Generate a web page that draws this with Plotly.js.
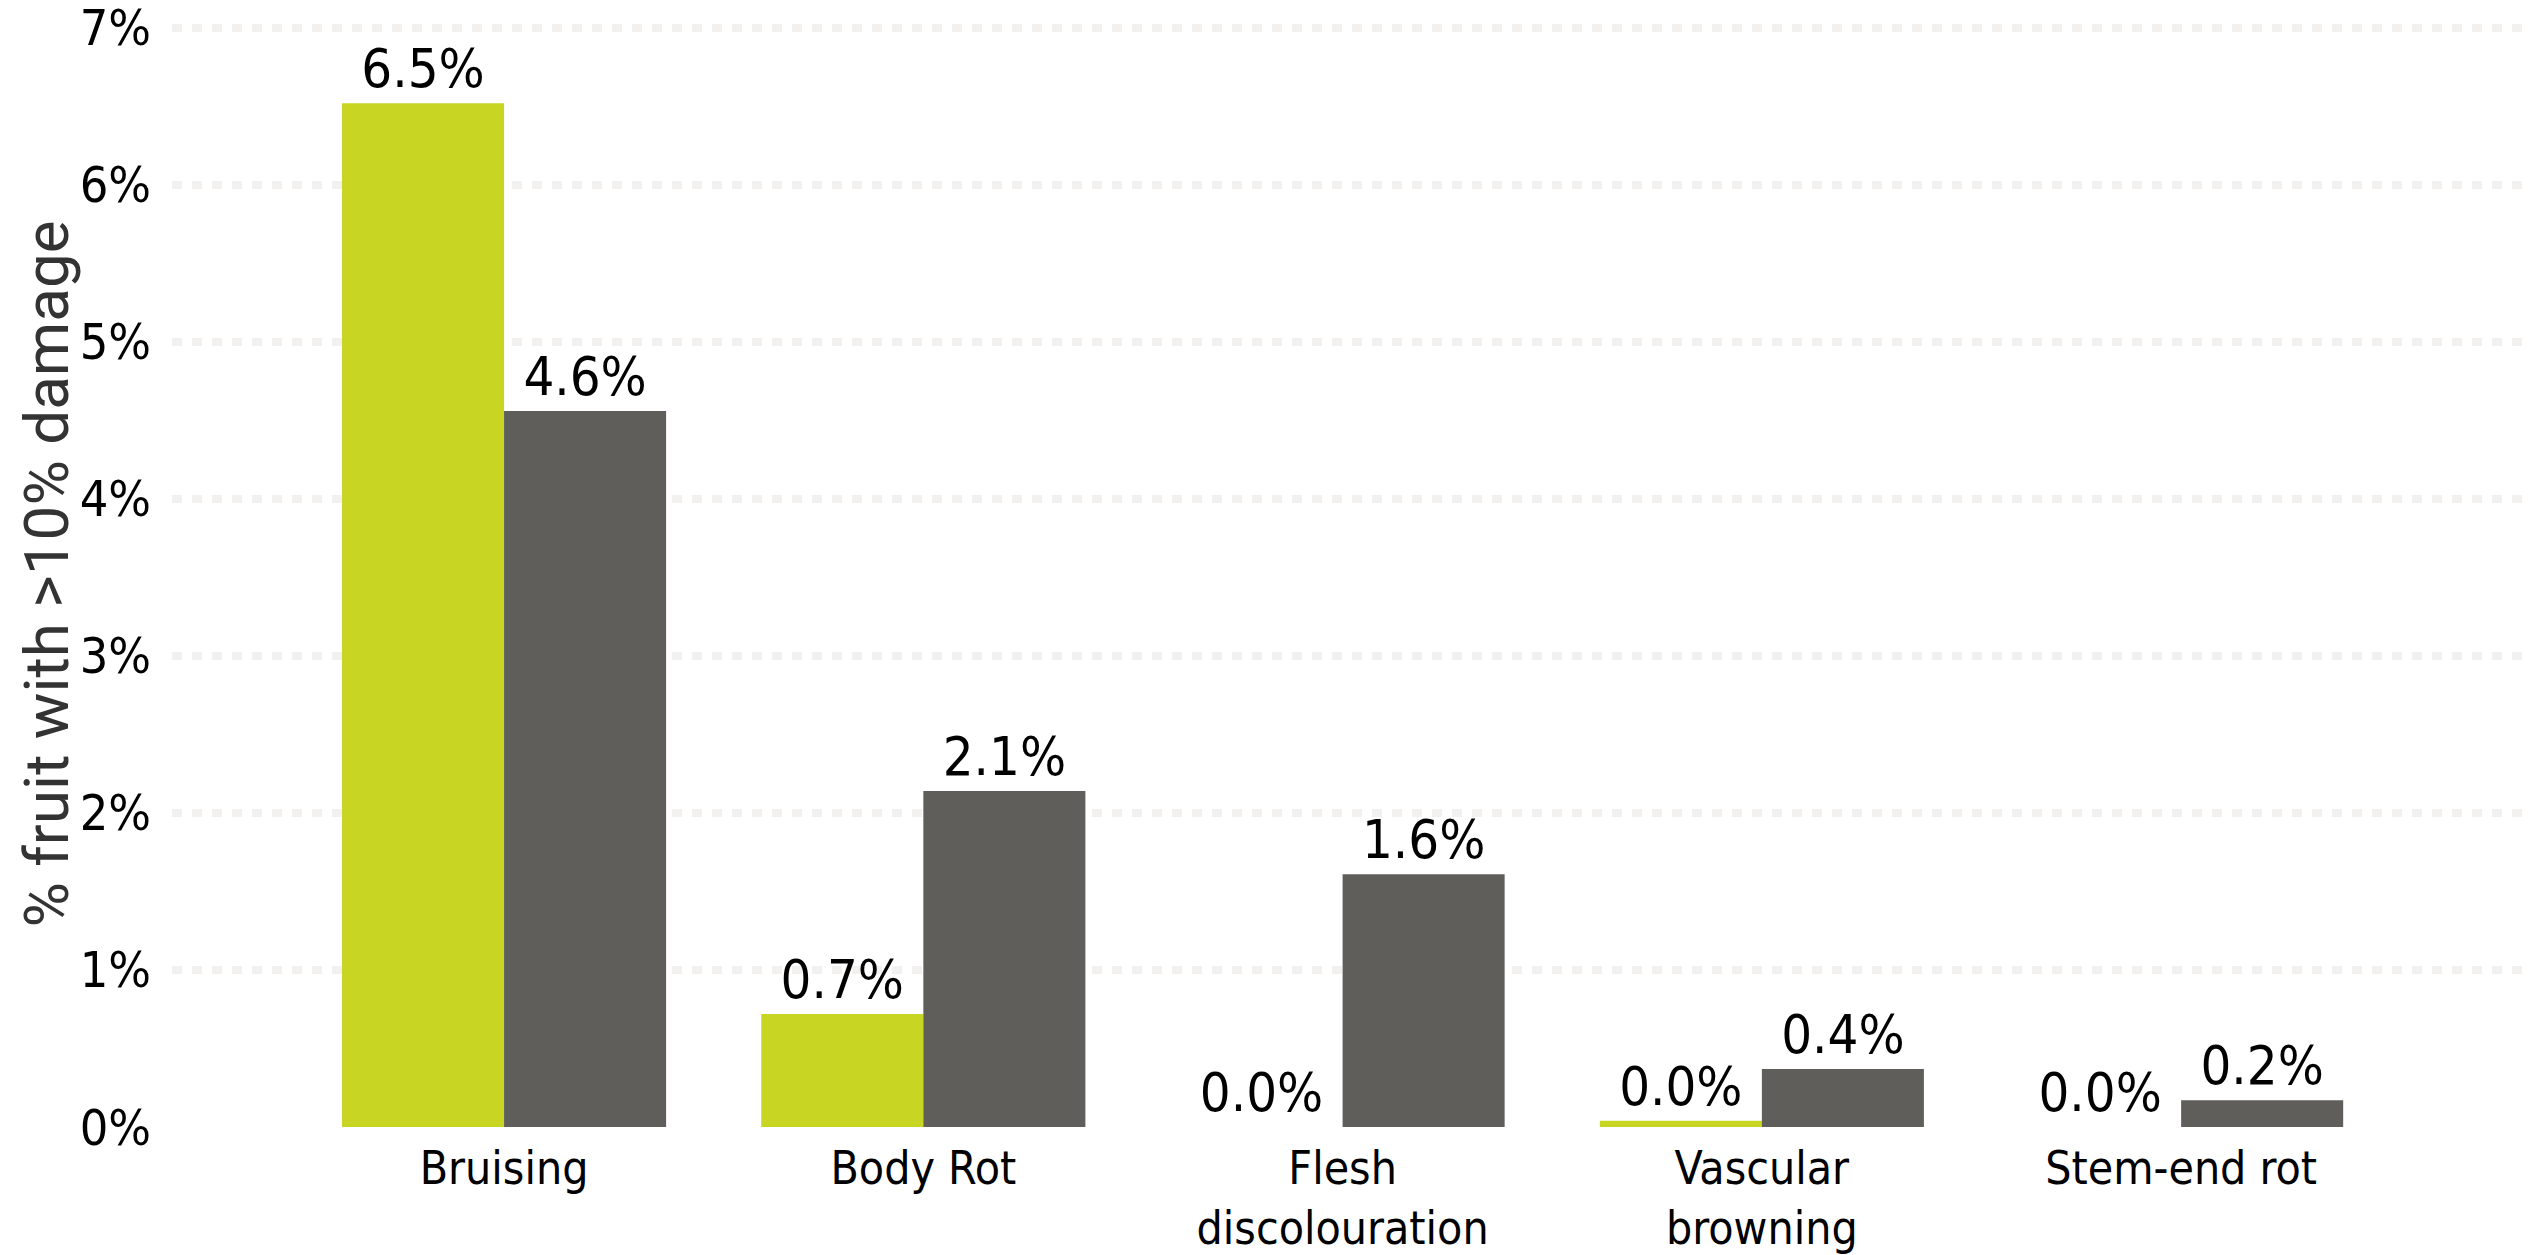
<!DOCTYPE html>
<html>
<head>
<meta charset="utf-8">
<script src="https://cdn.plot.ly/plotly-3.0.1.min.js"></script>
<style>
html,body{margin:0;padding:0;background:#fff;}
#chart{width:2533px;height:1255px;}
</style>
</head>
<body>
<div id="chart"></div>
<script>
var categories = ["Bruising", "Body Rot", "Flesh<br>discolouration", "Vascular<br>browning", "Stem-end rot"];
var seriesGreen = [6.52, 0.72, 0.0, 0.04, 0.0];
var seriesGray = [4.56, 2.14, 1.61, 0.37, 0.17];
var yTickVals = [0, 1, 2, 3, 4, 5, 6, 7];
var yTickText = ["0%", "1%", "2%", "3%", "4%", "5%", "6%", "7%"];
var yTitle = "% fruit with >10% damage";

var numFont = "DejaVu Sans Condensed, Liberation Sans, Arial, sans-serif";
var txtFont = "DejaVu Sans Condensed, Liberation Sans, Arial, sans-serif";

var common = {
  type: "bar",
  x: categories,
  texttemplate: "%{y:.1f}%",
  textposition: "outside",
  constraintext: "none",
  cliponaxis: false,
  textfont: {family: numFont, size: 54, color: "#000"},
  hoverinfo: "skip"
};

var traceGreen = Object.assign({}, common, {y: seriesGreen, marker: {color: "#c8d523"}, name: "A"});
var traceGray = Object.assign({}, common, {y: seriesGray, marker: {color: "#5f5e5b"}, name: "B"});

var layout = {
  width: 2533,
  height: 1255,
  margin: {l: 172, r: 11, t: 20, b: 128},
  paper_bgcolor: "#fff",
  plot_bgcolor: "#fff",
  showlegend: false,
  barmode: "group",
  bargap: 0.227,
  bargroupgap: 0,
  xaxis: {
    type: "category",
    range: [-0.792, 4.813],
    showgrid: false,
    zeroline: false,
    showline: false,
    ticks: "",
    tickfont: {family: txtFont, size: 46, color: "#000"},
    ticklabelstandoff: 10
  },
  yaxis: {
    range: [0, 7.05],
    tickmode: "array",
    tickvals: yTickVals,
    ticktext: yTickText,
    ticklabeloverflow: "allow",
    showgrid: true,
    gridcolor: "#f2f1ef",
    gridwidth: 8,
    griddash: "10px,10px",
    zeroline: false,
    showline: false,
    ticks: "",
    ticklabelstandoff: 20,
    tickfont: {family: numFont, size: 50, color: "#000"}
  },
  annotations: [{
    text: yTitle,
    xref: "paper", yref: "paper",
    x: -0.0532, y: 0.5,
    xanchor: "center", yanchor: "middle",
    textangle: -90,
    showarrow: false,
    font: {family: "Roboto, Liberation Sans, Arial, sans-serif", size: 62, color: "#333"}
  }]
};

Plotly.newPlot("chart", [traceGreen, traceGray], layout, {displayModeBar: false, staticPlot: true});
</script>
</body>
</html>
